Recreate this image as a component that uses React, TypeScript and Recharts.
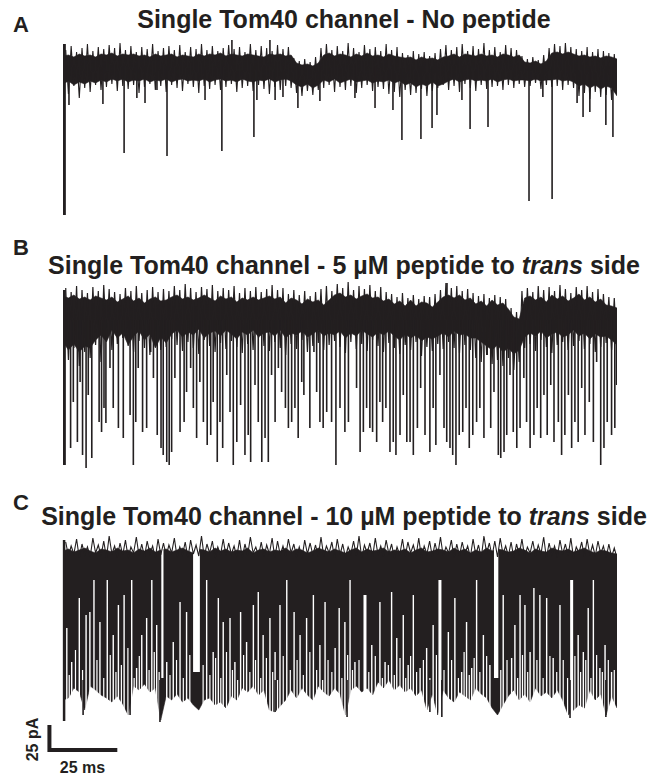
import React from 'react';
import { ComposedChart, Area, Line, XAxis, YAxis } from 'recharts';

const INK = '#231f20';
const SAMPLE_MS = 2; // envelope samples at 0, 2, 4 ... ms
const NOISE_OFFSET_MS = 1; // noise maxima at 1, 3, 5 ... ms, minima at 2, 4, 6 ... ms

// ---------- Panel A : no peptide (current in pA, time in ms) ----------
const aTop = [
  10, 11, 9, 12, 10, 11, 9,
  12, 11, 13, 10, 12, 11, 12,
  10, 11, 9, 12, 10, 11, 12, 9, 11, 10, 9, 12,
  10, 12, 11, 13, 10, 12, 11, 10, 12, 11, 10, 9, 12, 11, 12, 10, 11,
  3, 1, 2, 0, 3,
  11, 13, 10, 12, 11, 9, 12, 10, 13, 10, 11, 9, 12, 10, 9,
  8, 9, 6, 9, 7, 8, 6, 9,
  10, 12, 9, 12, 11, 10, 12, 10, 11, 9, 12, 11, 9, 11,
  4, 3, 5, 2, 5,
  13, 14, 12, 14, 12,
  10, 11, 9, 10, 8, 10, 9, 7,
];
const aBottom = [
  -18, -15, -19, -16, -18, -15, -17,
  -14, -16, -13, -15, -13, -16, -14,
  -15, -13, -16, -14, -15, -13, -16, -14, -13, -15, -14, -15,
  -13, -16, -14, -13, -15, -14, -16, -13, -15, -16, -14, -15, -13, -16, -14, -13, -15,
  -19, -21, -18, -22, -19,
  -14, -16, -13, -17, -15, -13, -16, -15, -14, -17, -15, -16, -14, -17, -15,
  -19, -17, -21, -18, -20, -16, -20, -18,
  -15, -13, -16, -14, -13, -15, -14, -15, -13, -16, -14, -13, -15, -14,
  -14, -15, -13, -15, -14,
  -14, -13, -15, -14, -16,
  -20, -18, -22, -19, -23, -20, -22, -30,
];
const aNoiseHi = [
  16, 20, 14, 18, 22, 15, 19, 17, 21, 18,
  23, 16, 20, 14, 19, 17, 22, 15, 18, 20,
  16, 21, 14, 19, 17, 22, 16, 20, 15, 18,
  21, 17, 19, 14, 22, 16, 20, 18, 15, 21,
  17, 19, 8, 5, 7, 4, 9, 18, 22, 16,
  20, 15, 23, 18, 14, 21, 17, 19, 15, 22,
  16, 19, 13, 11, 15, 12, 14, 10, 13, 17,
  21, 16, 19, 22, 15, 20, 17, 23, 16, 19,
  14, 21, 18, 16, 10, 7, 9, 6, 11, 18,
  22, 20, 23, 19, 17, 15, 19, 14, 17, 15,
  13, 12,
];
const aNoiseLo = [
  -28, -20, -32, -22, -26, -19, -24, -21, -18, -25,
  -20, -23, -19, -27, -21, -18, -24, -20, -26, -19,
  -22, -25, -18, -21, -27, -20, -23, -19, -24, -21,
  -18, -26, -22, -20, -25, -19, -23, -28, -21, -24,
  -20, -22, -27, -30, -25, -29, -24, -22, -19, -26,
  -21, -24, -20, -27, -22, -19, -25, -21, -23, -28,
  -26, -31, -24, -29, -27, -23, -30, -25, -22, -19,
  -24, -20, -26, -18, -22, -25, -19, -23, -21, -20,
  -24, -19, -22, -18, -21, -20, -17, -23, -19, -21,
  -20, -24, -19, -22, -30, -27, -33, -26, -31, -29,
  -34, -28,
];
const aSpikes = [
  [2.2, -39], [14.7, -38], [22.5, -87], [27.2, -32], [30.2, -37], [34.6, -24], [38.3, -90],
  [52.3, -34], [58.5, -85], [62.2, 34], [70.3, -71], [71.4, -34], [76.2, 26], [78.1, -34],
  [81.0, -31], [86.5, -42], [94.6, -35], [107.5, -32], [114.9, -42], [121.5, -44], [124.8, -74],
  [131.8, -73], [135.9, -62], [137.7, -49], [146.9, -34], [149.9, -63], [156.5, -61],
  [171.6, -135], [176.7, -31], [180.1, -133], [189.3, -37], [191.5, -51], [194.0, -46],
  [199.9, -59], [202.5, -71],
];
const aEdge = [[0.5, 22], [0.5, -149]];

// ---------- Panel B : 5 µM peptide ----------
const bTop = [
  4, 2, 5, 1, 3, 0, 4,
  2, 0, 3, -2, 1, 4, -1, 2, -3, 1, 3, -1, 0,
  3, 5, 1, 3, 0, 2, 5, 2, -1, 4, 1, 3, -2, 2, 0, 3, 0, 2,
  4, 1, 3, -3, 2, 0, -4, 1, -2, 0, -5, 0,
  5, 7, 3, 5, 1, 4, 6, 2, 3, -1, 1,
  -4, -1, -6, 0, -6, -2, -3, -7, -2,
  3, 5, 2, 5, 0, 2,
  -4, -1, -6, 0, -5, -3, -9,
  -17, -19,
  2, 4, 0, 3, -2, 5, 1, 4, -1, 2, 6, 0, 3, -2, 1,
  -5, -6, -8,
];
const bBottom = [
  -42, -50, -44, -52, -46, -48, -40,
  -35, -42, -30, -38, -33, -45, -36, -31, -40, -34, -48, -37, -43,
  -34, -30, -37, -32, -35, -29, -38, -33, -31, -36, -30, -34, -39, -32, -35, -30, -37, -33,
  -32, -36, -30, -38, -33, -35, -31, -37, -34, -30, -36, -33,
  -35, -31, -38, -33, -36, -30, -34, -37, -32, -35, -31,
  -36, -40, -34, -38, -35, -41, -37, -39, -36,
  -33, -37, -31, -35, -34, -38,
  -38, -42, -46, -50, -45, -52, -48,
  -54, -50,
  -37, -33, -36, -31, -38, -34, -32, -37, -35, -30, -36, -33, -39, -34, -37,
  -36, -40, -45,
];
const bNoiseHi = [
  12, 8, 14, 10, 7, 13, 9, 15, 11, 8,
  6, 12, 9, 14, 7, 10, 13, 8, 11, 9,
  14, 10, 16, 12, 8, 13, 11, 15, 9, 12,
  10, 14, 7, 12, 9, 13, 8, 11, 15, 10,
  12, 6, 10, 5, 9, 4, 8, 11, 14, 9,
  16, 12, 18, 10, 14, 11, 15, 9, 13, 8,
  6, 3, 7, 2, 5, 1, 4, 3, 6, 10,
  17, 12, 14, 9, 11, 7, 4, 6, 2, 5,
  3, 1, -8, -12, 9, 12, 8, 14, 10, 13,
  9, 15, 11, 7, 13, 10, 14, 8, 11, 6,
  3, 2,
];
const bNoiseLo = [
  -60, -48, -66, -52, -58, -45, -62, -40, -50, -44,
  -38, -46, -52, -41, -48, -55, -43, -50, -47, -39,
  -45, -51, -42, -48, -54, -40, -46, -52, -43, -49,
  -41, -47, -53, -44, -50, -38, -46, -51, -42, -48,
  -55, -44, -49, -40, -52, -46, -43, -50, -45, -41,
  -47, -53, -42, -49, -44, -51, -40, -46, -52, -43,
  -48, -54, -45, -50, -42, -56, -47, -51, -44, -49,
  -42, -48, -53, -45, -50, -58, -62, -55, -64, -60,
  -66, -58, -70, -62, -48, -44, -51, -40, -47, -53,
  -45, -42, -50, -46, -41, -49, -44, -52, -47, -43,
  -50, -55,
];
const bSpikes = [
  [2.8, -148], [3.8, -102], [5.3, -142], [6.3, -82], [7.2, -155], [8.5, -168], [9.3, -95],
  [10.6, -158], [13.3, -122], [14.2, -132], [15.1, -108], [15.8, -123], [17.3, -68], [18.5, -108],
  [20.4, -128], [22.2, -138], [24.7, -115], [25.9, -165], [26.8, -122], [27.7, -68], [29.3, -132],
  [30.8, -128], [32.3, -52], [33.3, -78], [34.7, -135], [36.1, -148], [36.9, -155], [38.2, -162],
  [39.1, -165], [40.0, -152], [41.2, -78], [43.1, -132], [44.6, -122], [45.5, -92], [47.0, -68],
  [48.0, -108], [49.2, -138], [50.4, -82], [51.7, -122], [53.1, -145], [54.4, -135], [55.3, -102],
  [56.8, -162], [57.8, -122], [58.8, -148], [60.3, -75], [61.5, -112], [62.7, -165], [64.0, -142],
  [65.4, -105], [67.0, -155], [68.2, -135], [69.1, -162], [70.7, -85], [71.9, -122], [73.2, -162],
  [74.4, -138], [75.6, -162], [76.8, -75], [78.1, -122], [79.3, -68], [80.5, -92], [81.9, -108],
  [83.0, -128], [84.2, -122], [85.4, -108], [86.6, -138], [87.9, -82], [88.7, -95], [90.9, -128],
  [92.4, -52], [93.4, -92], [94.6, -122], [95.8, -128], [97.1, -112], [98.9, -122], [100.5, -165],
  [102.0, -108], [103.8, -132], [105.1, -122], [108.1, -88], [109.4, -152], [110.6, -132],
  [111.8, -108], [113.0, -128], [114.0, -132], [115.5, -142], [116.7, -102], [117.7, -122],
  [118.9, -108], [120.4, -152], [121.6, -142], [122.6, -155], [124.1, -135], [125.3, -95],
  [126.6, -142], [127.8, -142], [129.0, -155], [130.5, -128], [131.7, -88], [133.3, -135],
  [135.1, -152], [136.3, -108], [137.3, -145], [138.8, -75], [140.3, -128], [141.3, -142],
  [141.4, 17], [142.5, -148], [143.5, -155], [144.7, -165], [145.9, -135], [147.2, -132],
  [148.4, -108], [149.6, -148], [150.9, -135], [152.3, -122], [153.5, -108], [155.0, -138],
  [156.2, -55], [157.5, -128], [158.7, -92], [160.3, -155], [161.2, -158], [162.4, -152],
  [163.4, -135], [164.6, -75], [165.8, -132], [167.1, -148], [168.3, -128], [169.7, -78],
  [170.7, -122], [172.0, -148], [173.4, -135], [174.6, -108], [175.9, -138], [177.1, -95],
  [178.3, -135], [179.6, -85], [180.8, -142], [182.4, -122], [183.6, -155], [184.8, -135],
  [186.1, -95], [187.3, -148], [188.5, -122], [189.7, -142], [191.0, -88], [192.2, -135],
  [193.8, -102], [195.3, -142], [196.5, -62], [198.0, -165], [199.2, -148], [200.4, -122],
  [202.0, -135], [203.2, -128], [203.9, -85],
];
const bEdge = [[0.5, 10], [0.5, -165]];

// ---------- Panel C : 10 µM peptide ----------
const cTop = [
  9, 11, 8, 10, 12, 9, 7, 11, 10, 8,
  12, 9, 10, 7, 11, 9, 12, 8, 10, 11,
  8, 10, 12, 9, 7, 11, 10, 8, 12, 9,
  11, 8, 10, 9, 12, 7, 10, 11, 8, 10,
  9, 12, 8, 11, 10, 7, 9, 12, 10, 8,
  11, 9, 7, 10, 12, 8, 11, 9, 10, 12,
  8, 10, 9, 11, 7, 10, 12, 8, 9, 11,
  10, 8, 12, 9, 11, 7, 10, 8, 12, 9,
  11, 10, 8, 9, 12, 10, 7, 11, 9, 8,
  12, 10, 9, 11, 8, 10, 12, 9, 7, 10,
  9, 7, 6,
];
const cBottom = [
  -140, -138,
  -128, -132, -150, -126, -130, -135,
  -138, -142, -136, -144, -155,
  -126, -130, -124, -132, -128, -160,
  -136, -140, -134, -142, -138,
  -145, -150, -140,
  -138, -145, -142, -148, -136, -140,
  -128, -132, -126, -135, -130, -150,
  -152, -146, -140,
  -130, -138, -128, -135, -140, -126, -132, -136,
  -128, -134, -155, -130, -126, -132, -128, -135,
  -122, -128, -120, -130, -125, -132,
  -128, -136, -130, -150, -134, -155,
  -130, -138, -142, -132, -136, -140, -128, -134, -138,
  -148, -155, -145,
  -136, -130, -140, -134, -142, -128, -136, -132, -138, -130, -140, -155,
  -150, -145, -148,
  -130, -140, -134, -155, -136, -148,
];
const cNoiseHi = [
  18, 14, 21, 16, 13, 22, 15, 19, 24, 14,
  17, 20, 13, 23, 16, 19, 14, 21, 17, 15,
  22, 13, 18, 20, 15, 24, 16, 19, 13, 21,
  17, 14, 20, 16, 23, 13, 18, 15, 22, 19,
  14, 21, 16, 13, 20, 17, 15, 23, 14, 18,
  21, 16, 13, 19, 24, 15, 17, 22, 14, 20,
  16, 13, 21, 18, 15, 22, 14, 19, 17, 23,
  13, 20, 16, 18, 14, 21, 15, 24, 17, 19,
  22, 14, 18, 16, 21, 13, 19, 15, 23, 17,
  14, 20, 16, 22, 13, 18, 21, 15, 19, 14,
  16, 12,
];
const cNoiseLo = [
  4, 6, 2, 5, 3, 7, 4, 2, 6, 3,
  5, 2, 7, 4, 3, 6, 2, 5, 4, 7,
  3, 5, 2, 6, 4, 3, 7, 2, 5, 4,
  6, 3, 2, 5, 7, 4, 3, 6, 2, 5,
  4, 7, 3, 2, 6, 5, 3, 4, 7, 2,
  5, 3, 6, 4, 2, 7, 3, 5, 4, 6,
  2, 5, 3, 7, 4, 2, 6, 3, 5, 4,
  7, 2, 4, 6, 3, 5, 2, 7, 4, 3,
  6, 4, 2, 5, 3, 7, 4, 6, 2, 5,
  3, 6, 4, 2, 7, 3, 5, 4, 6, 2,
  3, 2,
];
// open dwells: white gap from this level down below the trace
const cOpenGaps = [
  [1.4, -68], [3.2, -102], [6.0, -38], [8.5, -55], [9.9, -52], [11.4, -20], [13.6, -62],
  [16.3, -20], [18.5, -75], [20.4, -45], [22.5, -35], [25.3, -20], [27.1, -108], [29.0, -75],
  [30.8, -58], [32.7, -20], [34.5, -65], [38.2, -102], [40.6, -82], [43.1, -42], [45.5, -52],
  [52.9, -20], [55.3, -92], [57.2, -38], [59.0, -62], [61.5, -58], [63.3, -102], [65.4, -52],
  [67.6, -82], [70.1, -45], [71.9, -32], [73.7, -75], [76.2, -58], [78.1, -92], [79.9, -45],
  [82.4, -20], [85.1, -52], [87.3, -75], [89.7, -58], [92.2, -35], [94.6, -85], [96.5, -42],
  [100.2, -88], [101.7, -48], [103.8, -62], [105.7, -20], [107.5, -102], [113.7, -85],
  [116.7, -42], [118.6, -102], [121.0, -32], [122.9, -78], [125.3, -55], [127.1, -105],
  [129.0, -35], [131.5, -108], [133.9, -88], [136.3, -65], [141.9, -72], [144.3, -38],
  [146.8, -112], [148.6, -62], [150.5, -108], [152.3, -20], [154.8, -75], [157.2, -105],
  [162.1, -35], [165.2, -98], [166.4, -65], [168.3, -35], [170.1, -45], [172.0, -92],
  [173.4, -28], [175.6, -35], [178.1, -38], [180.5, -98], [183.0, -45], [189.7, -75],
  [191.6, -92], [193.4, -48], [195.3, -20], [197.7, -108], [199.6, -85], [202.0, -112],
];
// brief openings seen only near the closed level
const cShortGaps = [
  [2.3, -115], [4.6, -90], [7.2, -110], [12.5, -100], [15.0, -118], [17.4, -95], [19.5, -112],
  [21.5, -105], [23.9, -88], [26.2, -118], [28.1, -96], [31.7, -110], [33.6, -92], [35.4, -112],
  [39.4, -115], [41.8, -100], [44.3, -118], [46.7, -95], [51.6, -105], [54.1, -115], [56.2, -98],
  [58.1, -118], [60.2, -92], [62.4, -110], [64.3, -120], [66.5, -95], [68.8, -112], [70.9, -100],
  [72.8, -118], [74.9, -98], [77.2, -112], [79.0, -120], [81.1, -96], [83.7, -110], [86.2, -100],
  [88.5, -115], [90.9, -92], [93.4, -110], [95.6, -120], [97.6, -100], [99.0, -112],
  [102.7, -118], [104.8, -95], [106.6, -110], [109.0, -100], [112.6, -112], [115.0, -96],
  [117.6, -118], [119.8, -105], [122.0, -115], [124.1, -98], [126.2, -118], [128.0, -96],
  [130.2, -112], [132.7, -100], [135.1, -118], [137.5, -95], [140.3, -110], [143.1, -100],
  [145.6, -118], [147.7, -92], [149.6, -115], [151.4, -98], [153.5, -112], [156.0, -96],
  [161.2, -110], [163.5, -100], [167.4, -118], [169.2, -95], [171.1, -112], [174.5, -100],
  [176.8, -118], [179.3, -96], [181.8, -112], [184.2, -100], [185.8, -118], [188.5, -96],
  [190.6, -112], [192.5, -100], [194.4, -118], [196.5, -95], [198.6, -112], [200.8, -100],
  [203.0, -110],
];
const cWideGaps = [[111.2, -35], [138.8, -20], [187.3, -20]];
// closed dwells: [start ms, end ms, closed level]
const cClosedDwells = [[36.2, 37.0, -118], [47.9, 50.4, -112], [158.7, 160.3, -118]];
const cSpikes = [
  [7.4, -155], [24.7, -155], [35.7, -162], [78.1, -152], [104.6, -157], [135.1, -152],
  [139.5, -157], [186.7, -158], [199.9, -157],
];
const cEdge = [[0.4, 20], [0.4, -161]];
// scale bar: 25 pA vertical, 25 ms horizontal
const scaleBar = [[-5, -165], [-5, -190], [20, -190]];

const GAP_FLOOR = -165;
const LEVEL_CEIL = 35;

type Row = { t: number; v?: number | null; r?: number[] | null };

const envelope = (top: number[], bottom: number[]): Row[] => {
  const n = Math.min(top.length, bottom.length);
  const rows: Row[] = [];
  for (let i = 0; i < n; i++) rows.push({ t: i * SAMPLE_MS, r: [bottom[i], top[i]] });
  return rows;
};
// the recorded trace: alternating maxima and minima drawn as one zig-zag line
const zigzag = (hi: number[], lo: number[]): Row[] => {
  const n = Math.min(hi.length, lo.length);
  const rows: Row[] = [];
  for (let i = 0; i < n; i++) {
    rows.push({ t: NOISE_OFFSET_MS + i * SAMPLE_MS, v: hi[i] });
    rows.push({ t: NOISE_OFFSET_MS + i * SAMPLE_MS + NOISE_OFFSET_MS, v: lo[i] });
  }
  return rows;
};
const strokes = (list: number[][], from: number | null): Row[] =>
  list.flatMap(([t, v]) => [
    { t, v: from === null ? v : from },
    { t, v: from === null ? GAP_FLOOR : v },
    { t, v: null },
  ]);
const pathRows = (list: number[][]): Row[] => list.map(([t, v]) => ({ t, v }));

const lineProps = {
  dataKey: 'v',
  dot: false,
  activeDot: false,
  isAnimationActive: false,
  connectNulls: false,
  type: 'linear' as const,
};

const areaProps = {
  dataKey: 'r',
  type: 'linear' as const,
  fillOpacity: 1,
  dot: false,
  activeDot: false,
  isAnimationActive: false,
};

type PanelProps = {
  top: number;
  height: number;
  left: number;
  xDomain: [number, number];
  yDomain: [number, number];
  children: React.ReactNode;
};

const Panel = ({ top, height, left, xDomain, yDomain, children }: PanelProps) => (
  <div style={{ position: 'absolute', left: 0, top, width: 661, height }}>
    <ComposedChart width={661} height={height} margin={{ top: 0, right: 44, bottom: 0, left }}>
      <XAxis type="number" dataKey="t" domain={xDomain} hide allowDataOverflow />
      <YAxis type="number" domain={yDomain} hide allowDataOverflow />
      {children}
    </ComposedChart>
  </div>
);

const txt = {
  fontFamily: '"Liberation Sans", Arial, Helvetica, sans-serif',
  fontWeight: 700,
  fill: INK,
};

export default function App() {
  return (
    <div
      style={{
        position: 'absolute',
        left: 0,
        top: 0,
        width: 661,
        height: 775,
        background: '#ffffff',
        overflow: 'hidden',
      }}
    >
      <Panel top={40} height={180} left={63} xDomain={[0, 204]} yDomain={[-154, 26]}>
        <Area {...areaProps} data={envelope(aTop, aBottom)} fill={INK} stroke={INK} strokeWidth={0.6} />
        <Line {...lineProps} data={zigzag(aNoiseHi, aNoiseLo)} stroke={INK} strokeWidth={1.1} />
        <Line {...lineProps} data={strokes(aSpikes, 0)} stroke={INK} strokeWidth={1.6} />
        <Line {...lineProps} data={pathRows(aEdge)} stroke={INK} strokeWidth={3} />
      </Panel>

      <Panel top={280} height={190} left={63} xDomain={[0, 204]} yDomain={[-170, 20]}>
        <Area {...areaProps} data={envelope(bTop, bBottom)} fill={INK} stroke={INK} strokeWidth={0.6} />
        <Line {...lineProps} data={zigzag(bNoiseHi, bNoiseLo)} stroke={INK} strokeWidth={1.2} />
        <Line {...lineProps} data={strokes(bSpikes, -20)} stroke={INK} strokeWidth={1.6} />
        <Line {...lineProps} data={pathRows(bEdge)} stroke={INK} strokeWidth={3} />
      </Panel>

      <Panel top={525} height={240} left={40} xDomain={[-8.47, 204]} yDomain={[-205, 35]}>
        <Area {...areaProps} data={envelope(cTop, cBottom)} fill={INK} stroke={INK} strokeWidth={0.6} />
        <Line {...lineProps} data={zigzag(cNoiseHi, cNoiseLo)} stroke={INK} strokeWidth={1.1} />
        {cClosedDwells.map(([s, e, low], i) => (
          <Area key={`cd${i}`} {...areaProps}
            data={[{ t: s, r: [low, LEVEL_CEIL] }, { t: e, r: [low, LEVEL_CEIL] }]}
            fill="#ffffff" stroke="none" />
        ))}
        <Line {...lineProps} data={strokes(cOpenGaps, null)} stroke="#ffffff" strokeWidth={1.4} />
        <Line {...lineProps} data={strokes(cShortGaps, null)} stroke="#ffffff" strokeWidth={1.2} />
        <Line {...lineProps} data={strokes(cWideGaps, null)} stroke="#ffffff" strokeWidth={3} />
        <Line {...lineProps} data={strokes(cSpikes, -120)} stroke={INK} strokeWidth={1.6} />
        <Line {...lineProps} data={pathRows(cEdge)} stroke={INK} strokeWidth={2.5} />
        <Line {...lineProps} data={pathRows(scaleBar)} stroke={INK} strokeWidth={4}
          strokeLinejoin="miter" strokeLinecap="butt" />
      </Panel>

      <svg width={661} height={775} style={{ position: 'absolute', left: 0, top: 0, pointerEvents: 'none' }}>
        <text x={13} y={32} fontSize={22} {...txt}>A</text>
        <text x={344} y={28} fontSize={25} textAnchor="middle" {...txt}>
          Single Tom40 channel - No peptide
        </text>
        <text x={13} y={255} fontSize={22} {...txt}>B</text>
        <text x={344} y={274} fontSize={25} textAnchor="middle" {...txt}>
          {'Single Tom40 channel - 5 µM peptide to '}
          <tspan fontStyle="italic">trans</tspan>
          {' side'}
        </text>
        <text x={13} y={510} fontSize={22} {...txt}>C</text>
        <text x={344} y={525} fontSize={25} textAnchor="middle" {...txt}>
          {'Single Tom40 channel - 10 µM peptide to '}
          <tspan fontStyle="italic">trans</tspan>
          {' side'}
        </text>
        <text x={0} y={0} fontSize={16} textAnchor="middle" {...txt}
          transform="translate(37.5 739.5) rotate(-90)">25 pA</text>
        <text x={82.5} y={773} fontSize={16} textAnchor="middle" {...txt}>25 ms</text>
      </svg>
    </div>
  );
}
